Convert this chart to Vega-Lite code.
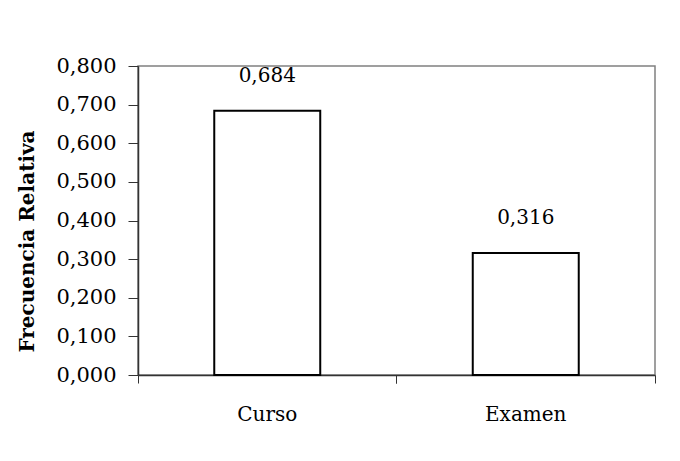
{
  "$schema": "https://vega.github.io/schema/vega-lite/v6.json",
  "width": 517,
  "height": 309,
  "autosize": "none",
  "padding": {"left": 138, "top": 66, "right": 25, "bottom": 86},
  "background": "white",
  "config": {
    "font": "DejaVu Serif",
    "locale": {"number": {"decimal": ",", "thousands": ".", "grouping": [3], "currency": ["", " €"]}},
    "view": {"stroke": "#808080", "strokeWidth": 1.5},
    "axis": {"grid": false, "labelFont": "DejaVu Serif", "titleFont": "DejaVu Serif", "labelColor": "black", "titleColor": "black"}
  },
  "data": {"values": [
    {"cat": "Curso", "val": 0.684},
    {"cat": "Examen", "val": 0.316}
  ]},
  "encoding": {
    "y": {"field": "val", "type": "quantitative",
          "scale": {"domain": [0, 0.8], "nice": false},
          "axis": {"title": "Frecuencia Relativa", "titleFontWeight": "bold", "titleFontSize": 20, "titlePadding": 18, "titleY": 175,
                   "values": [0, 0.1, 0.2, 0.3, 0.4, 0.5, 0.6, 0.7, 0.8], "format": ".3f", "labelOverlap": false, "labelBound": false,
                   "tickSize": 10, "tickColor": "#333", "domainColor": "#333", "domainWidth": 1.5, "labelPadding": 12, "labelFontSize": 21}}
  },
  "resolve": {"axis": {"x": "independent"}},
  "layer": [
    {
      "mark": {"type": "bar", "fill": "white", "stroke": "black", "strokeWidth": 2, "width": {"band": 0.41}},
      "encoding": {
        "x": {"field": "cat", "type": "nominal", "sort": null,
              "scale": {"paddingInner": 0, "paddingOuter": 0},
              "axis": {"orient": "bottom", "title": null, "labelAngle": 0, "bandPosition": 0, "tickSize": 8, "tickColor": "#333", "domainColor": "#333", "domainWidth": 1.5, "labelPadding": 21, "labelFontSize": 20, "labelBaseline": "top"}}
      }
    },
    {
      "mark": {"type": "text", "dy": -35, "baseline": "middle", "fontSize": 20, "font": "DejaVu Serif", "color": "black"},
      "encoding": {
        "x": {"field": "cat", "type": "nominal", "sort": null,
              "axis": {"orient": "bottom", "title": null, "labels": false, "domain": false, "bandPosition": 1, "tickSize": 8, "tickColor": "#333"}},
        "text": {"field": "val", "type": "quantitative", "format": ".3f"}
      }
    }
  ]
}
